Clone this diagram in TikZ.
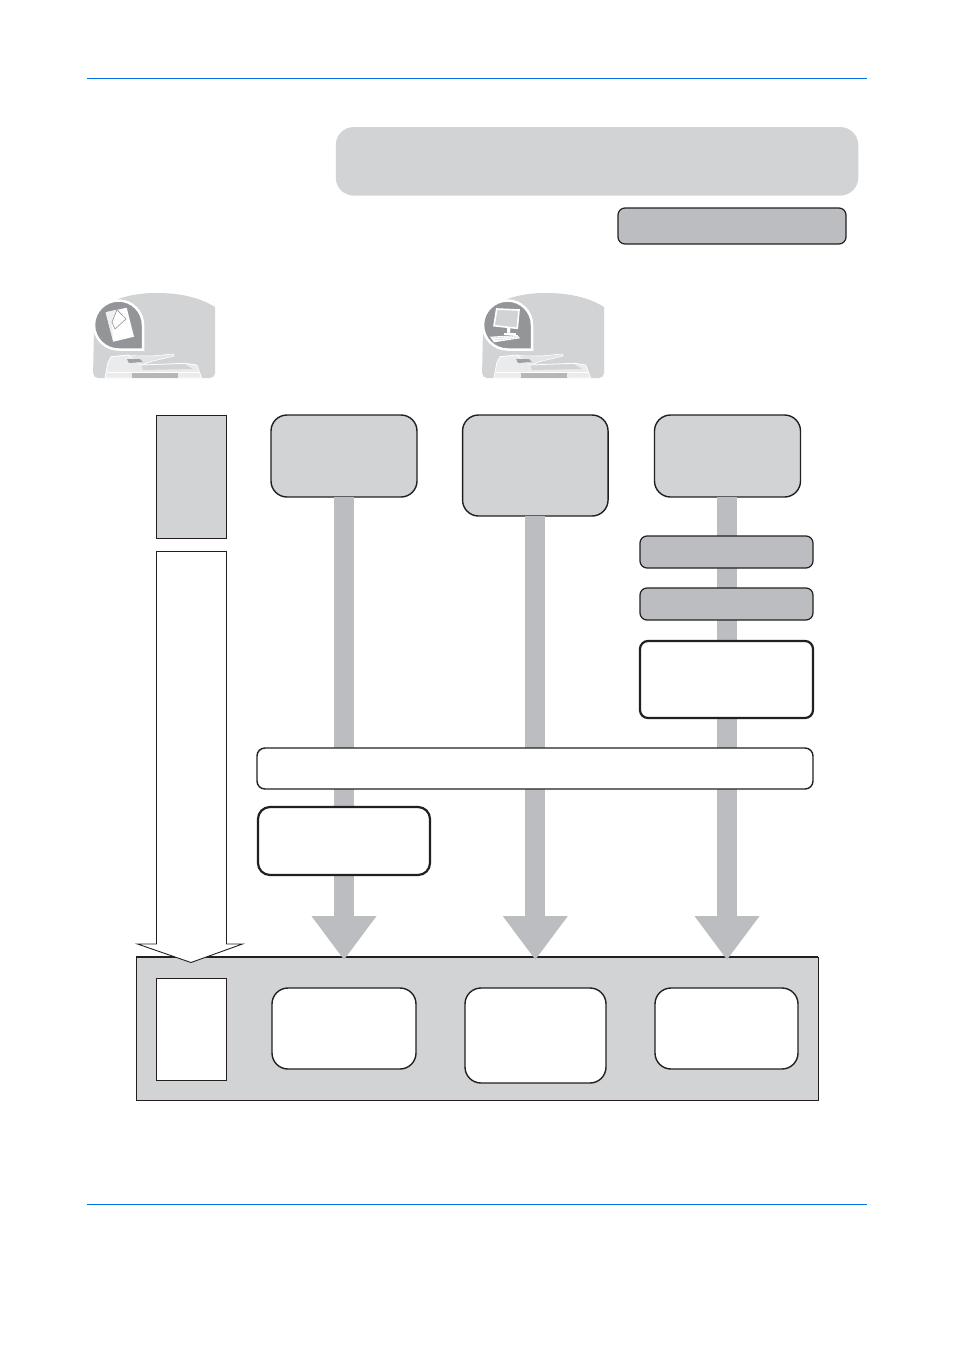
\documentclass[tikz,border=0pt]{standalone}
\usepackage{xcolor}
\usetikzlibrary{arrows.meta}
\definecolor{panelgray}{HTML}{D1D3D4}
\definecolor{flowgray}{HTML}{BBBDC0}
\definecolor{icongray}{HTML}{939598}
\definecolor{rulegray}{HTML}{231F20}
\definecolor{ruleblue}{HTML}{0072E6}
\tikzset{
    pics/copierbase/.style={code={
        \fill[panelgray] (122,14) [rounded corners=5] -- (122,85) -- (0,85) -- (1,35) [sharp corners] -- (25,6) .. controls (40,1) and (52,0) .. (64,0) .. controls (86,0) and (106,4) .. cycle;
        \fill[white!55!panelgray, draw=white, line width=0.8] (12,85) -- (14.7,70.3) -- (18,63.7) -- (35.3,62) -- (48.7,72) -- (92,70.3) -- (103.7,72) -- (108.7,85) -- cycle;
        \fill[white!40!panelgray, draw=white, line width=0.6] (35.3,62.7) -- (58.7,63) -- (80.3,61) -- (81,63) -- (60,68) -- (48.7,72) -- cycle;
        \fill[icongray!80!panelgray] (34,66) -- (47,66) -- (50,69) -- (36,70) -- cycle;
        \fill[panelgray] (48.7,72.5) -- (92,71) -- (100,76) -- (50,77) -- cycle;
        \draw[white, line width=0.8] (14,79) -- (107,79);
        \fill[icongray!45!panelgray] (38.7,80) rectangle (85,85);
        \fill[icongray, draw=white, line width=2.5] (25.5,56.5) arc[start angle=90, end angle=360, radius=24.5] -- (50,56.5) -- cycle;
    }},
    pics/sheetglyph/.style={code={
        \fill[white] (12.7,19.3) -- (33.7,14.7) -- (41,43.7) -- (20.3,48.7) -- cycle;
        \fill[white!65!panelgray] (12.7,19.3) -- (24,16.8) -- (19,29) -- (20.3,48.7) -- cycle;
        \draw[icongray, line width=0.6] (24,16.8) -- (19,29) -- (22,36);
        \draw[icongray, line width=0.6] (24,16.8) -- (33,26) -- (22,36);
    }},
    pics/monitorglyph/.style={code={
        \fill[panelgray, draw=white, line width=1.6] (14.7,16) -- (37,17) -- (35.3,35.3) -- (12,32.7) -- cycle;
        \fill[white] (25,35) -- (28.5,35.3) -- (28,40) -- (25.3,40) -- cycle;
        \fill[white] (22,40) rectangle (33.7,42);
        \fill[white] (8,43.7) -- (35.3,42) -- (38,45.3) -- (12,49.3) -- cycle;
        \draw[icongray, line width=0.5, densely dotted] (11,45) -- (35,43.2) (13,47) -- (36,44.8);
    }}
}
\begin{document}
\begin{tikzpicture} [
    x=1pt, y=-1pt,
    every node/.style = {inner sep=0pt, outer sep=0pt},
    softbox/.style = {draw=rulegray, fill=panelgray, line width=1.4, rounded corners=16},
    whitebox/.style = {draw=rulegray, fill=white, line width=1.4, rounded corners=16},
    tagbox/.style = {draw=rulegray, fill=flowgray, line width=1.2, rounded corners=7},
    notebox/.style = {draw=rulegray, fill=white, line width=2.2, rounded corners=8},
    flowline/.style = {draw=flowgray, line width=20, -{Triangle[length=44pt, width=62pt, color=flowgray]}},
    hairbox/.style = {draw=rulegray, line width=0.7}
]
    \path[use as bounding box, fill=white] (0,0) rectangle (954,1350);

    % page rules
    \coordinate (ruleTopL) at (86.5,78.5);
    \coordinate (ruleTopR) at (867,78.5);
    \coordinate (ruleBotL) at (86.5,1204.5);
    \coordinate (ruleBotR) at (867,1204.5);
    \draw[ruleblue, line width=0.9] (ruleTopL) -- (ruleTopR);
    \draw[ruleblue, line width=0.9] (ruleBotL) -- (ruleBotR);

    % heading
    \node [fill=panelgray, rounded corners=18, minimum width=522.5, minimum height=68.5] (banner) at (597,161.3) {};
    \node [tagbox, minimum width=228, minimum height=36] (bannerTag) at (732,226) {};

    % icons
    \pic at (93,293) {copierbase};
    \pic at (93,293) {sheetglyph};
    \pic at (482,293) {copierbase};
    \pic at (482,293) {monitorglyph};

    % bottom panel
    \node [fill=panelgray, draw=rulegray, line width=1, minimum width=682, minimum height=143] (panel) at (477,1028.5) {};
    \draw[rulegray, line width=2] (panel.north west) -- (panel.north east);

    % left column
    \node [hairbox, fill=panelgray, minimum width=70.5, minimum height=123.5] (stepHead) at (191.3,477) {};
    \coordinate (stepTopL) at (156.5,551.5);
    \coordinate (stepTopR) at (226.5,551.5);
    \coordinate (stepTip) at (191,962.5);
    \draw[rulegray, fill=white, line width=0.9] (stepTopL) -- (156.5,944) -- (137.5,944) -- (stepTip) -- (242.5,944) -- (226.5,944) -- (stepTopR) -- cycle;
    \node [hairbox, fill=white, minimum width=70.5, minimum height=102] (stepEnd) at (191.3,1029) {};

    % top boxes
    \node [softbox, minimum width=146, minimum height=82] (srcA) at (344,456) {};
    \node [softbox, minimum width=145.5, minimum height=101] (srcB) at (535.3,465.5) {};
    \node [softbox, minimum width=146, minimum height=82] (srcC) at (727.5,456) {};

    % flows
    \coordinate (tipA) at (344,960);
    \coordinate (tipB) at (535.3,960);
    \coordinate (tipC) at (727,960);
    \draw[flowline] (srcA.south) -- (tipA);
    \draw[flowline] (srcB.south) -- (tipB);
    \draw[flowline] (srcC.south -| tipC) -- (tipC);

    % boxes over flows
    \node [tagbox, minimum width=173, minimum height=32] (tagOne) at (726.5,552) {};
    \node [tagbox, minimum width=173, minimum height=32] (tagTwo) at (726.5,604) {};
    \node [notebox, minimum width=173, minimum height=77] (noteC) at (726.5,679.5) {};
    \node [whitebox, rounded corners=8, minimum width=556, minimum height=41] (wideBar) at (535,768.5) {};
    \node [notebox, rounded corners=12, minimum width=172, minimum height=68] (noteA) at (344,841) {};

    % result boxes
    \node [whitebox, minimum width=144, minimum height=81] (endA) at (344,1028.5) {};
    \node [whitebox, minimum width=141, minimum height=95] (endB) at (535.5,1035.5) {};
    \node [whitebox, minimum width=143, minimum height=81] (endC) at (726.5,1028.5) {};
\end{tikzpicture}
\end{document}
